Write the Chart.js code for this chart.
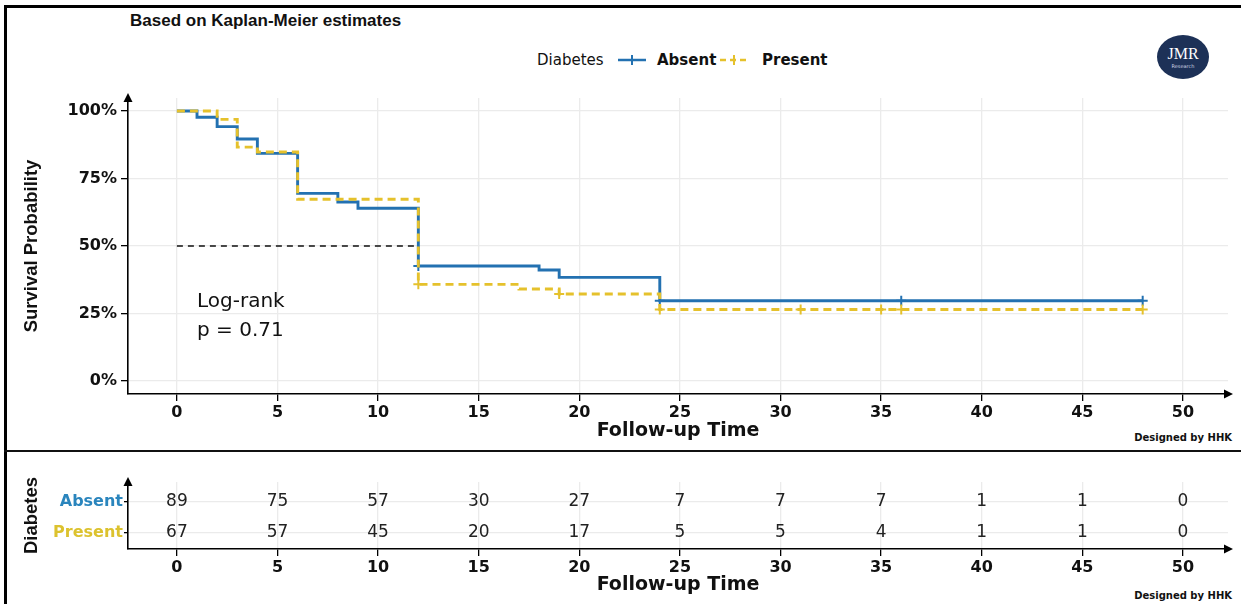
<!DOCTYPE html>
<html>
<head>
<meta charset="utf-8">
<script src="https://cdn.jsdelivr.net/npm/chart.js@4.4.1/dist/chart.umd.min.js"></script>
<style>
  body { margin: 0; width: 1241px; height: 604px; background: #fff; position: relative; overflow: hidden; font-family: "DejaVu Sans", sans-serif; }
  #km { position: absolute; left: 0; top: 0; }
  #risk { position: absolute; left: 0; top: 453px; }
  .frame-left { position: absolute; left: 4px; top: 5px; width: 3px; height: 599px; background: #000; }
  .frame-top { position: absolute; left: 4px; top: 5px; width: 1237px; height: 3px; background: #000; }
  .divider { position: absolute; left: 4px; top: 450px; width: 1237px; height: 2px; background: #111; }
  #title { position: absolute; left: 130px; top: 11px; font: bold 17px "Liberation Sans", Arial, sans-serif; color: #111; }
  #legend { position: absolute; left: 537px; top: 51px; height: 18px; font-size: 15px; color: #111; white-space: nowrap; }
  #legend span, #legend svg { position: absolute; top: 0; }
  #legend b { font-weight: bold; }
  .logo { position: absolute; left: 1157px; top: 35px; width: 52px; height: 44px; border-radius: 50%; background: #1d3157; color: #fff; text-align: center; }
  .logo .jmr { font: 16px "Liberation Serif", serif; position: absolute; left: 0; right: 0; top: 10px; }
  .logo .res { font: 5px "DejaVu Sans", sans-serif; position: absolute; left: 0; right: 0; top: 28px; color: #cfd6e4; }
  #logrank { position: absolute; left: 197px; top: 286px; font: 20px "DejaVu Sans", sans-serif; line-height: 29px; color: #111; z-index: 2; }
  .credit { position: absolute; right: 9px; font: bold 10px "DejaVu Sans", sans-serif; color: #111; }
</style>
</head>
<body>
<div class="frame-left"></div>
<div class="frame-top"></div>
<div class="divider"></div>
<div id="title">Based on Kaplan-Meier estimates</div>
<div id="legend"></div>
<div class="logo"><div class="jmr">JMR</div><div class="res">Research</div></div>
<div class="credit" style="top:432px">Designed by HHK</div>
<div class="credit" style="top:590px">Designed by HHK</div>
<canvas id="km" width="1241" height="451"></canvas>
<canvas id="risk" width="1241" height="151"></canvas>
<div id="logrank">Log-rank<br>p = 0.71</div>
<script>
// survival curves (time, probability)
const absentTime = [0, 1, 2, 3, 4, 6, 8, 9, 12, 18, 19, 24, 48];
const absentSurv = [1.00, 0.977, 0.942, 0.896, 0.843, 0.695, 0.663, 0.640, 0.426, 0.411, 0.384, 0.297, 0.297];
const presentTime = [0, 2, 3, 4, 6, 12, 17, 19, 24, 48];
const presentSurv = [1.00, 0.969, 0.866, 0.848, 0.673, 0.358, 0.341, 0.322, 0.265, 0.265];

// censored observations
const absentCensor = [12, 24, 36, 48];
const presentCensor = [12, 19, 24, 31, 35, 36, 48];

// number at risk
const riskTimes = [0, 5, 10, 15, 20, 25, 30, 35, 40, 45, 50];
const absentRisk = [89, 75, 57, 30, 27, 7, 7, 7, 1, 1, 0];
const presentRisk = [67, 57, 45, 20, 17, 5, 5, 4, 1, 1, 0];

const xTicks = [0, 5, 10, 15, 20, 25, 30, 35, 40, 45, 50];
const yTicks = [0, 0.25, 0.5, 0.75, 1];
const medianLine = [[0, 0.5], [12, 0.5]];

const BLUE = '#2371b1';
const YELLOW = '#e5c12c';
const tickFont = { family: '"DejaVu Sans", sans-serif', weight: 'bold', size: 16 };
const sideTitleFont = { family: '"Liberation Sans", Arial, sans-serif', weight: 'bold', size: 18.5 };
const axisTitleFont = { family: '"DejaVu Sans", sans-serif', weight: 'bold', size: 19 };

function survAt(times, surv, t) {
    let s = surv[0];
    for (let i = 0; i < times.length; i++) {
        if (times[i] <= t) s = surv[i];
    }
    return s;
}

function toPoints(xs, ys) {
    return xs.map((x, i) => ({ x: x, y: ys[i] }));
}

// legend
function legendIcon(color, dashed, left) {
    const dash = dashed ? 'stroke-dasharray="6 4"' : '';
    return `<svg style="left:${left}px" width="28" height="18"><line x1="0" y1="9" x2="28" y2="9" stroke="${color}" stroke-width="2.5" ${dash}/><line x1="14" y1="4" x2="14" y2="14" stroke="${color}" stroke-width="2"/></svg>`;
}
document.getElementById('legend').innerHTML =
    '<span style="left:0">Diabetes</span>' +
    legendIcon(BLUE, false, 81) +
    '<span style="left:120px"><b>Absent</b></span>' +
    legendIcon(YELLOW, true, 183) +
    '<span style="left:225px"><b>Present</b></span>';

const arrows = {
    id: 'arrows',
    afterDraw(chart) {
        const { ctx, chartArea: { left, top, right, bottom } } = chart;
        ctx.save();
        ctx.fillStyle = '#000';
        ctx.beginPath();
        ctx.moveTo(left, top - 5);
        ctx.lineTo(left - 4.5, top + 4);
        ctx.lineTo(left + 4.5, top + 4);
        ctx.closePath();
        ctx.fill();
        ctx.beginPath();
        ctx.moveTo(right + 5, bottom);
        ctx.lineTo(right - 4, bottom - 4.5);
        ctx.lineTo(right - 4, bottom + 4.5);
        ctx.closePath();
        ctx.fill();
        ctx.restore();
    }
};

const xScale = (titleBottom, height) => ({
    type: 'linear',
    min: -2.43,
    max: 52.24,
    afterBuildTicks: s => { s.ticks = xTicks.map(v => ({ value: v })); },
    afterFit: s => { s.height = height; },
    grid: { color: '#ebebeb', lineWidth: 1.3, tickLength: 7, tickColor: '#000', tickWidth: 1.3 },
    border: { display: true, color: '#000', width: 1.6 },
    ticks: { font: tickFont, color: '#111', padding: 2, maxRotation: 0 },
    title: { display: true, text: 'Follow-up Time', font: axisTitleFont, color: '#111', padding: { top: 0, bottom: titleBottom } }
});

new Chart(document.getElementById('km'), {
    type: 'line',
    data: {
        datasets: [
            {
                label: 'Absent',
                data: toPoints(absentTime, absentSurv),
                borderColor: BLUE,
                borderWidth: 2.9,
                stepped: 'before',
                pointRadius: 0,
                order: 1
            },
            {
                label: 'Present',
                data: toPoints(presentTime, presentSurv),
                borderColor: YELLOW,
                borderWidth: 2.9,
                borderDash: [8, 5],
                stepped: 'before',
                pointRadius: 0,
                order: 0
            },
            {
                type: 'scatter',
                label: 'Absent censored',
                data: absentCensor.map(t => ({ x: t, y: survAt(absentTime, absentSurv, t) })),
                pointStyle: 'cross',
                pointRadius: 5,
                borderWidth: 2,
                borderColor: BLUE,
                order: 1
            },
            {
                type: 'scatter',
                label: 'Present censored',
                data: presentCensor.map(t => ({ x: t, y: survAt(presentTime, presentSurv, t) })),
                pointStyle: 'cross',
                pointRadius: 5,
                borderWidth: 2,
                borderColor: YELLOW,
                order: 0
            },
            {
                label: 'Median',
                data: medianLine.map(p => ({ x: p[0], y: p[1] })),
                borderColor: '#111',
                borderWidth: 1.3,
                borderDash: [6, 5],
                pointRadius: 0,
                order: 2
            }
        ]
    },
    options: {
        responsive: false,
        animation: false,
        devicePixelRatio: 1,
        layout: { padding: { left: 8, right: 13, top: 98, bottom: 0 } },
        plugins: { legend: { display: false }, tooltip: { enabled: false } },
        scales: {
            x: xScale(9, 57),
            y: {
                type: 'linear',
                min: -0.048,
                max: 1.048,
                afterBuildTicks: s => { s.ticks = yTicks.map(v => ({ value: v })); },
                afterFit: s => { s.width = 120; },
                grid: { color: '#ebebeb', lineWidth: 1.3, tickLength: 7, tickColor: '#000', tickWidth: 1.3 },
                border: { display: true, color: '#000', width: 1.6 },
                ticks: { font: tickFont, color: '#111', padding: 4, callback: v => Math.round(v * 100) + '%' },
                title: { display: true, text: 'Survival Probability', font: sideTitleFont, color: '#111', padding: { top: 13, bottom: 0 } }
            }
        }
    },
    plugins: [arrows]
});

const riskNumbers = {
    id: 'riskNumbers',
    afterDatasetsDraw(chart) {
        const { ctx, scales: { x, y } } = chart;
        ctx.save();
        ctx.font = '17px "DejaVu Sans", sans-serif';
        ctx.fillStyle = '#222';
        ctx.textAlign = 'center';
        ctx.textBaseline = 'middle';
        chart.data.datasets.forEach(ds => {
            ds.data.forEach((p, i) => {
                ctx.fillText(ds.counts[i], x.getPixelForValue(p.x), y.getPixelForValue(p.y));
            });
        });
        ctx.restore();
    }
};

new Chart(document.getElementById('risk'), {
    type: 'scatter',
    data: {
        datasets: [
            { label: 'Absent', data: riskTimes.map(t => ({ x: t, y: 2 })), counts: absentRisk, pointRadius: 0 },
            { label: 'Present', data: riskTimes.map(t => ({ x: t, y: 1 })), counts: presentRisk, pointRadius: 0 }
        ]
    },
    options: {
        responsive: false,
        animation: false,
        devicePixelRatio: 1,
        layout: { padding: { left: 8, right: 13, top: 29, bottom: 0 } },
        plugins: { legend: { display: false }, tooltip: { enabled: false } },
        scales: {
            x: xScale(8, 55),
            y: {
                type: 'linear',
                min: 0.48,
                max: 2.65,
                afterBuildTicks: s => { s.ticks = [{ value: 1 }, { value: 2 }]; },
                afterFit: s => { s.width = 120; },
                grid: { color: '#ebebeb', lineWidth: 1.3, tickLength: 4, tickColor: '#000', tickWidth: 1.3 },
                border: { display: true, color: '#000', width: 1.6 },
                ticks: {
                    font: { family: '"DejaVu Sans", sans-serif', weight: 'bold', size: 16 },
                    color: c => c.tick && c.tick.value === 2 ? '#2a85bd' : '#dcc22e',
                    padding: 1,
                    callback: v => v === 2 ? 'Absent' : 'Present'
                },
                title: { display: true, text: 'Diabetes', font: sideTitleFont, color: '#111', padding: { top: 13, bottom: 0 } }
            }
        }
    },
    plugins: [arrows, riskNumbers]
});
</script>
</body>
</html>
